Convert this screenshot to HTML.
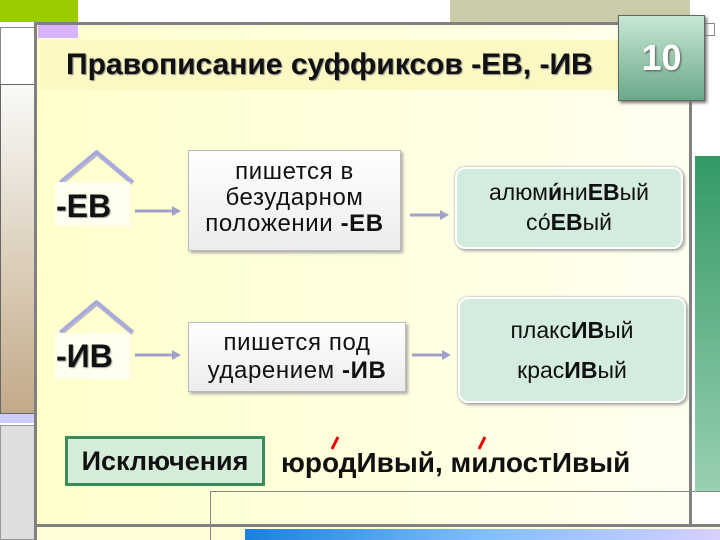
<!DOCTYPE html>
<html><head><meta charset="utf-8"><style>
*{margin:0;padding:0;box-sizing:border-box}
body{width:720px;height:540px;position:relative;overflow:hidden;background:#fff;font-family:"Liberation Sans",sans-serif}
.a{position:absolute}
.t{font-family:"Liberation Sans",sans-serif;color:#111;text-align:center;white-space:nowrap}
</style></head><body>
<div class="a" style="left:0;top:0;width:78px;height:22px;background:#99cc00"></div>
<div class="a" style="left:450px;top:0;width:240px;height:23px;background:#cccbaa"></div>
<div class="a" style="left:450px;top:23px;width:265px;height:13px;border:1px solid #888;background:#fff"></div>
<div class="a" style="left:0;top:27px;width:35px;height:58px;border:1px solid #888;background:#fff"></div>
<div class="a" style="left:0;top:84px;width:35px;height:330px;background:linear-gradient(#fafaf8,#c2aa88);border:1px solid #666"></div>
<div class="a" style="left:0;top:414px;width:35px;height:9px;background:#ccccff"></div>
<div class="a" style="left:0;top:425px;width:35px;height:115px;background:#dedede;border:1px solid #999"></div>
<div class="a" style="left:695px;top:156px;width:25px;height:335px;background:linear-gradient(#339966,#99d0b0)"></div>
<div class="a" style="left:37px;top:25px;width:653px;height:500px;background:linear-gradient(90deg,#ffffcc,#fffff0)"></div>
<div class="a" style="left:38px;top:25px;width:40px;height:13px;background:#d9b3ff"></div>
<div class="a" style="left:35px;top:22px;width:665px;height:3px;background:#808080"></div>
<div class="a" style="left:34px;top:22px;width:3px;height:518px;background:#808080"></div>
<div class="a" style="left:689px;top:22px;width:3px;height:505px;background:#808080"></div>
<div class="a" style="left:35px;top:524px;width:685px;height:3px;background:#808080"></div>
<div class="a" style="left:210px;top:491px;width:510px;height:49px;border-left:1px solid #888;border-top:1px solid #888"></div>
<div class="a" style="left:37px;top:527px;width:683px;height:13px;background:#fffcd8"></div>
<div class="a" style="left:210px;top:527px;width:1px;height:13px;background:#888"></div>
<div class="a" style="left:245px;top:529px;width:475px;height:11px;background:linear-gradient(90deg,#1a7fe0,#7fbfff,#d8d0ff)"></div>
<div class="a" style="left:40px;top:40px;width:590px;height:50px;background:#fcf8c4"></div>
<div class="a t" style="left:66px;top:48px;font-size:30px;font-weight:bold;text-align:left;text-shadow:1px 1px 1px #888">Правописание суффиксов -ЕВ, -ИВ</div>
<div class="a" style="left:618px;top:15px;width:87px;height:86px;background:linear-gradient(#c8e8d4,#6aa888);border:1px solid #666;box-shadow:2px 2px 3px #777"></div>
<div class="a t" style="left:618px;top:37px;width:87px;font-size:36px;font-weight:bold;color:#fff;text-shadow:1px 1px 2px #555">10</div>

<svg class="a" style="left:0;top:0" width="720" height="540">
<g stroke="#b8b8c8" stroke-width="5" fill="none">
<polyline points="61,183 97,153 133,183"/>
<polyline points="61,333 97,303 133,333"/>
</g>
<g stroke="#a8a8e0" stroke-width="3" fill="none">
<polyline points="60,182 96,152 132,182"/>
<polyline points="60,332 96,302 132,332"/>
</g>
<g stroke="#a0a0c8" stroke-width="3" fill="#a0a0c8">
<line x1="135" y1="211" x2="172" y2="211"/><polygon points="172,206 181,211 172,216" stroke="none"/>
<line x1="135" y1="355" x2="172" y2="355"/><polygon points="172,350 181,355 172,360" stroke="none"/>
<line x1="410" y1="215" x2="440" y2="215"/><polygon points="440,210 449,215 440,220" stroke="none"/>
<line x1="412" y1="355" x2="442" y2="355"/><polygon points="442,350 451,355 442,360" stroke="none"/>
</g>
<g stroke="#e00" stroke-width="3">
<line x1="584" y1="310" x2="577" y2="324"/>
<line x1="580" y1="348" x2="573" y2="362"/>
<line x1="338" y1="437" x2="332" y2="449"/>
<line x1="485" y1="437" x2="479" y2="449"/>
</g>
</svg>

<div class="a" style="left:55px;top:182px;width:75px;height:44px;background:#fffff0"></div>
<div class="a t" style="left:56px;top:188px;font-size:32px;font-weight:bold;text-shadow:1px 1px 1px #999">-ЕВ</div>
<div class="a" style="left:55px;top:333px;width:75px;height:46px;background:#fffff0"></div>
<div class="a t" style="left:56px;top:338px;font-size:32px;font-weight:bold;text-shadow:1px 1px 1px #999">-ИВ</div>

<div class="a t" style="left:188px;top:150px;width:213px;height:101px;background:linear-gradient(#fff,#ececec);border:1px solid #bbb;box-shadow:2px 2px 3px #aaa;font-size:24px;letter-spacing:0.6px;line-height:26px;padding-top:8px">пишется в<br>безударном<br>положении <b>-ЕВ</b></div>
<div class="a t" style="left:188px;top:322px;width:218px;height:70px;background:linear-gradient(#fff,#ececec);border:1px solid #bbb;box-shadow:2px 2px 3px #aaa;font-size:24px;letter-spacing:0.6px;line-height:28px;padding-top:6px">пишется под<br>ударением <b>-ИВ</b></div>

<div class="a t" style="left:455px;top:167px;width:228px;height:82px;background:#d4ecdf;border:2px solid #fff;border-radius:10px;box-shadow:0 0 2px #999,2px 2px 3px #aaa;font-size:23px;line-height:30px;padding-top:8px">алюм<b>и́</b>ни<b>ЕВ</b>ый<br>с<span>о́</span><b>ЕВ</b>ый</div>
<div class="a t" style="left:458px;top:297px;width:228px;height:106px;background:#d4ecdf;border:2px solid #fff;border-radius:10px;box-shadow:0 0 2px #999,2px 2px 3px #aaa;font-size:23px;line-height:40px;padding-top:11px">плакс<b>ИВ</b>ый<br>крас<b>ИВ</b>ый</div>

<div class="a t" style="left:65px;top:436px;width:200px;height:50px;background:#d4ecd8;border:3px solid #3a8a5a;font-size:27px;font-weight:bold;line-height:44px">Исключения</div>
<div class="a t" style="left:281px;top:447px;font-size:28px;font-weight:bold;text-align:left">юродИвый, милостИвый</div>
</body></html>
